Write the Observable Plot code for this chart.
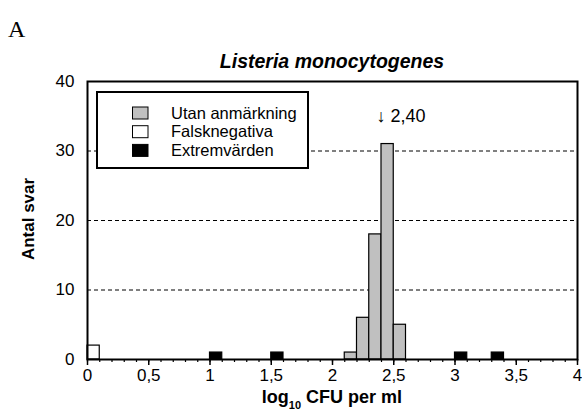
<!DOCTYPE html>
<html><head><meta charset="utf-8">
<script src="https://cdn.jsdelivr.net/npm/d3@7"></script>
<script src="https://cdn.jsdelivr.net/npm/@observablehq/plot@0.6"></script>
<style>body{margin:0;background:#fff;} svg{overflow:visible}</style>
</head><body><div id="chart"></div>
<script>
const seriesNames = ["Utan anmärkning", "Falsknegativa", "Extremvärden"];
const seriesColors = ["#c0c0c0", "#ffffff", "#000000"];
const binWidth = 0.1;
const normalBins = [2.1, 2.2, 2.3, 2.4, 2.5];
const normalCounts = [1, 6, 18, 31, 5];
const falseNegBins = [0.0];
const falseNegCounts = [2];
const extremeBins = [1.0, 1.5, 3.0, 3.3];
const extremeCounts = [1, 1, 1, 1];
const xTicks = [0, 0.5, 1, 1.5, 2, 2.5, 3, 3.5, 4];
const xMinorTicks = d3.range(0, 41).map(i => i / 10);
const yTicks = [0, 10, 20, 30, 40];
const gridValues = [10, 20, 30];
const medianValue = 2.40;
const medianLabel = "↓ 2,40";
const titleText = "Listeria monocytogenes";
const panelLabel = "A";
const yLabel = "Antal svar";

const rows = [];
normalBins.forEach((b, i) => rows.push({x1: b, x2: b + binWidth, count: normalCounts[i], series: seriesNames[0]}));
falseNegBins.forEach((b, i) => rows.push({x1: b, x2: b + binWidth, count: falseNegCounts[i], series: seriesNames[1]}));
extremeBins.forEach((b, i) => rows.push({x1: b, x2: b + binWidth, count: extremeCounts[i], series: seriesNames[2]}));

const font = "'Liberation Sans', Arial, sans-serif";
const fmt = d => String(d).replace(".", ",");

const chart = Plot.plot({
  width: 582, height: 417,
  marginLeft: 87, marginRight: 5, marginTop: 81, marginBottom: 58,
  style: {fontFamily: font, fontSize: "17px", color: "#000", background: "#fff"},
  x: {domain: [0, 4]},
  y: {domain: [0, 40]},
  color: {domain: seriesNames, range: seriesColors},
  marks: [
    Plot.ruleY(gridValues, {stroke: "#000", strokeWidth: 1, strokeDasharray: "4,3"}),
    Plot.rectY(rows, {x1: "x1", x2: "x2", y: "count", fill: "series", stroke: "#000", strokeWidth: 1.2}),
    Plot.axisX(xMinorTicks, {tickSize: 3, tickFormat: () => "", stroke: "#000", strokeWidth: 1.2}),
    Plot.axisX(xTicks, {tickSize: 6, tickPadding: 3, tickFormat: fmt, label: null, stroke: "#000", strokeWidth: 1.5, fontSize: 17}),
    Plot.axisY(yTicks, {tickSize: 0, tickPadding: 13, label: null, fontSize: 17}),
    Plot.frame({stroke: "#000", strokeWidth: 2}),
    Plot.text([medianValue], {x: d => d, y: 35, text: () => medianLabel, textAnchor: "start", dx: -5, fontSize: 18})
  ]
});
document.getElementById("chart").appendChild(chart);

const svg = d3.select(chart);
// panel label
svg.append("text").attr("x", 8).attr("y", 37).attr("text-anchor", "start")
  .attr("font-family", "'Liberation Serif', 'Times New Roman', serif")
  .attr("font-size", 24).text(panelLabel);
// title
svg.append("text").attr("x", 332).attr("y", 68).attr("text-anchor", "middle")
  .attr("font-family", font).attr("font-size", 19.5).attr("font-weight", "bold").attr("font-style", "italic").text(titleText);
// y label
svg.append("text").attr("transform", "translate(34,219) rotate(-90)").attr("text-anchor", "middle")
  .attr("font-family", font).attr("font-size", 17).attr("font-weight", "bold").text(yLabel);
// x label with subscript
const xl = svg.append("text").attr("x", 332).attr("y", 403).attr("text-anchor", "middle")
  .attr("font-family", font).attr("font-size", 18).attr("font-weight", "bold");
xl.append("tspan").text("log");
xl.append("tspan").attr("font-size", 11).attr("dy", 6).text("10");
xl.append("tspan").attr("dy", -6).text(" CFU per ml");
// legend
const lg = svg.append("g");
lg.append("rect").attr("x", 97).attr("y", 92).attr("width", 211).attr("height", 76)
  .attr("fill", "#fff").attr("stroke", "#000").attr("stroke-width", 2);
seriesNames.forEach((name, i) => {
  const cy = 113 + i * 18.7;
  lg.append("rect").attr("x", 132.5).attr("y", cy - 6).attr("width", 15.5).attr("height", 12)
    .attr("fill", seriesColors[i]).attr("stroke", "#000").attr("stroke-width", 1);
  lg.append("text").attr("x", 171).attr("y", cy + 5.5).attr("text-anchor", "start")
    .attr("font-family", font).attr("font-size", 16.5).text(name);
});
</script>
</body></html>
